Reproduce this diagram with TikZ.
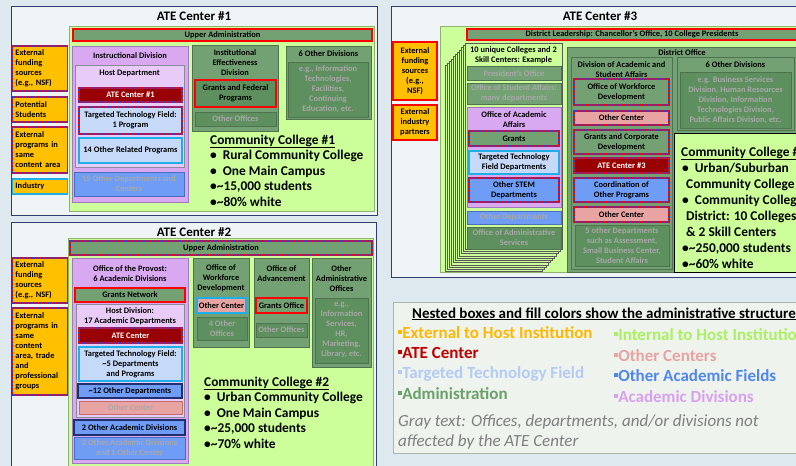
\documentclass[tikz,border=0pt]{standalone}
\usepackage{fontspec}
\setmainfont{Carlito}
\definecolor{bgc}{HTML}{DDE9EE}
\definecolor{panel}{HTML}{EFF5F7}
\definecolor{navy}{HTML}{2F3E6B}
\definecolor{lgreen}{HTML}{CCFF99}
\definecolor{lgreenb}{HTML}{8FB36E}
\definecolor{admin}{HTML}{73A173}
\definecolor{admind}{HTML}{5E8F5E}
\definecolor{adminb}{HTML}{4E734E}
\definecolor{purp}{HTML}{D8A9F1}
\definecolor{purpb}{HTML}{A07ABF}
\definecolor{lpurp}{HTML}{E9CBF7}
\definecolor{lpurpb}{HTML}{8A8A9A}
\definecolor{lblue}{HTML}{C6D9F8}
\definecolor{oblue}{HTML}{6F9DF6}
\definecolor{obblue}{HTML}{4A6FC0}
\definecolor{navyb}{HTML}{1F2F6F}
\definecolor{pink}{HTML}{E8A3A3}
\definecolor{pinkb}{HTML}{C07070}
\definecolor{dred}{HTML}{990000}
\definecolor{ext}{HTML}{FFC000}
\definecolor{cyanb}{HTML}{1EAEE8}
\definecolor{rbblue}{HTML}{3A3ACC}
\definecolor{graytxt}{HTML}{A8A8A8}
\definecolor{legbg}{HTML}{EEF3EE}
\definecolor{legb}{HTML}{A8B8A8}
\definecolor{leggreen}{HTML}{6AA06A}
\definecolor{legint}{HTML}{AAF060}
\definecolor{legred}{HTML}{C00000}
\definecolor{legtb}{HTML}{B4CCF5}
\definecolor{legblue}{HTML}{4F86F0}
\definecolor{legpurp}{HTML}{D9A0F0}
\definecolor{legorange}{HTML}{FFB800}
\definecolor{leggray}{HTML}{7F7F7F}
% box from corner (x1,y1) to corner (x2,y2), in pixels
\newcommand\boxat[7]{\node[#2, minimum width={(#5)-(#3)}, minimum height={(#6)-(#4)}] (#1) at ({((#3)+(#5))/2},{((#4)+(#6))/2}) {#7};}
\newcommand\sq[1]{{\color{#1}\rule[0.22em]{0.24em}{0.24em}}}
\begin{document}
\begin{tikzpicture}[x=1pt,y=-1pt,
  bx/.style={inner sep=0pt, outer sep=0pt, align=center, font=\fontsize{8.4}{10}\selectfont\bfseries, text=black},
  ttl/.style={bx},
  panelbox/.style={fill=panel, draw=navy, line width=0.8pt},
  inner/.style={bx, fill=lgreen, draw=lgreenb, line width=0.8pt},
  adm/.style={bx, fill=admin, draw=adminb, line width=0.6pt},
  admd/.style={bx, fill=admind, draw=adminb, line width=0.6pt},
  acad/.style={bx, fill=purp, draw=purpb, line width=0.8pt},
  host/.style={bx, fill=lpurp, draw=lpurpb, line width=0.6pt},
  tfield/.style={bx, fill=lblue, draw=obblue, line width=0.6pt},
  ofield/.style={bx, fill=oblue, draw=obblue, line width=0.8pt},
  ocenter/.style={bx, fill=pink, draw=pinkb, line width=0.6pt},
  atebox/.style={bx, fill=dred, text=white},
  extbox/.style={bx, fill=ext, draw=ext},
  extl/.style={extbox, align=left, text width=49pt, inner xsep=3pt},
  layer/.style={fill=lgreen, draw=black!65, line width=0.5pt},
  redline/.style={draw=red, line width=1.5pt},
  rbline/.style={draw=rbblue, line width=1.5pt, postaction={draw=red, line width=1.5pt, dash pattern=on 1.8pt off 1.8pt}},
  cyanline/.style={draw=cyanb, line width=1.5pt},
  navyline/.style={draw=navyb, line width=1.4pt},
  gtxt/.style={text=graytxt},
  cc/.style={inner sep=0pt, anchor=base west, font=\fontsize{13.4}{15}\selectfont\bfseries},
  leg/.style={inner sep=0pt, anchor=base west, font=\fontsize{17}{20}\selectfont\bfseries},
  legi/.style={inner sep=0pt, anchor=base west, text=leggray, font=\fontsize{17}{20}\selectfont\itshape},
  pttl/.style={inner sep=0pt, font=\fontsize{13}{15}\selectfont\bfseries}
]
\useasboundingbox (0,0) rectangle (796,466);
\clip (0,0) rectangle (796,466);
\fill[bgc] (0,0) rectangle (796,466);

% ---------- panels ----------
\boxat{p1}{panelbox}{11}{6}{377}{215}{}
\boxat{p2}{panelbox}{11}{222}{376}{480}{}
\boxat{p3}{panelbox}{391}{6}{812}{277}{}
\boxat{leg}{fill=legbg, draw=legb, line width=0.8pt}{393}{302}{812}{453}{}
\node[pttl] (t1) at (194,16) {ATE Center \#1};
\node[pttl] (t2) at (194,232) {ATE Center \#2};
\node[pttl] (t3) at (600,16) {ATE Center \#3};

% ---------- ATE Center #1 ----------
\boxat{g1}{inner}{69}{26}{374}{211}{}
\boxat{ua1}{adm, redline}{73}{29}{372}{41}{Upper Administration}
\boxat{e1}{extl, rbline}{13}{46}{67}{91}{External\\funding\\sources\\(e.g., NSF)}
\boxat{e2}{extl, rbline}{13}{97}{67}{122}{Potential\\Students}
\boxat{e3}{extl, rbline}{13}{127}{67}{173}{External\\programs in\\same\\content area}
\boxat{e4}{extl, cyanline}{13}{179}{67}{194}{Industry}
\boxat{id1}{acad}{72}{46}{188}{202}{}
\node[ttl] (id1t) at (130,56) {Instructional Division};
\boxat{hd1}{host}{75}{65}{184}{167}{}
\node[ttl] (hd1t) at (129.5,73) {Host Department};
\boxat{ate1}{atebox, rbline}{79}{88}{182}{102}{ATE Center \#1}
\boxat{tf1}{tfield, rbline}{79}{107}{182}{134}{Targeted Technology Field:\\1 Program}
\boxat{op14}{tfield, cyanline}{79}{138}{182}{163}{14 Other Related Programs}
\boxat{od15}{ofield, gtxt}{74}{172}{184}{196}{15 Other Departments and\\Centers}
\boxat{ied}{adm}{192}{45}{278}{131}{}
\node[ttl] (iedt) at (235,63) {Institutional\\Effectiveness\\Division};
\boxat{gfp}{admd, redline}{195}{80}{276}{107}{Grants and Federal\\Programs}
\boxat{oo1}{admd, gtxt}{195}{112}{276}{126}{Other Offices}
\boxat{ods1}{adm}{286}{46}{371}{119}{}
\node[ttl] (ods1t) at (328.5,53.5) {6 Other Divisions};
\boxat{ods1i}{admd, gtxt}{288}{62}{368}{117}{e.g., Information\\Technologies,\\Facilities,\\Continuing\\Education, etc.}
\node[cc] (cc1a) at (210,144) {\underline{Community College \#1}};
\node[cc] (cc1b) at (210,159.5) {•\ \ Rural Community College};
\node[cc] (cc1c) at (210,175) {•\ \ One Main Campus};
\node[cc] (cc1d) at (210,190.5) {•\textasciitilde 15,000 students};
\node[cc] (cc1e) at (210,206) {•\textasciitilde 80\% white};

% ---------- ATE Center #2 ----------
\boxat{g2}{inner}{68}{238}{373}{475}{}
\boxat{ua2}{adm, rbline}{70}{241}{372}{255}{Upper Administration}
\boxat{e5}{extl, rbline}{13}{258}{67}{303}{External\\funding\\sources\\(e.g., NSF)}
\boxat{e6}{extl, rbline}{13}{308}{67}{395}{External\\programs in\\same\\content\\area, trade\\and\\professional\\groups}
\boxat{opv}{acad}{72}{258}{188}{463}{}
\node[ttl] (opvt) at (130,273.5) {Office of the Provost:\\6 Academic Divisions};
\boxat{gn}{adm, redline}{75}{288}{185}{302}{Grants Network}
\boxat{hdv}{host}{76}{304}{184}{417}{}
\node[ttl] (hdvt) at (130,316.5) {Host Division:\\17 Academic Departments};
\boxat{ate2}{atebox, rbline}{79}{328}{182}{343}{ATE Center}
\boxat{tf2}{tfield, cyanline}{79}{347}{182}{381}{Targeted Technology Field:\\\textasciitilde 5 Departments\\and Programs}
\boxat{od12}{ofield, navyline}{78}{384}{182}{398}{\textasciitilde 12 Other Departments}
\boxat{oc2}{ocenter, gtxt}{79}{401}{182}{414}{Other Center}
\boxat{ad2}{ofield, navyline}{74}{420}{185}{435}{2 Other Academic Divisions}
\boxat{ad3}{ofield, gtxt}{74}{437}{185}{459}{3 Other Academic Divisions\\and 1 Other Center}
\boxat{owd2}{adm}{193}{258}{249}{347}{}
\node[ttl] (owd2t) at (221,278.5) {Office of\\Workforce\\Development};
\boxat{oc2b}{ocenter, cyanline}{197}{298}{246}{313}{Other Center}
\boxat{oo4}{admd, gtxt}{197}{317}{247}{340}{4 Other\\Offices}
\boxat{oadv}{adm}{254}{258}{309}{347}{}
\node[ttl] (oadvt) at (281.5,273.5) {Office of\\Advancement};
\boxat{go}{adm, redline}{256}{298}{307}{313}{Grants Office}
\boxat{oo2}{admd, gtxt}{256}{323}{307}{337}{Other Offices}
\boxat{oao}{adm}{312}{258}{371}{367}{}
\node[ttl] (oaot) at (341.5,278.5) {Other\\Administrative\\Offices};
\boxat{oaoi}{admd, gtxt}{315}{298}{368}{363}{e.g.,\\Information\\Services,\\HR,\\Marketing,\\Library, etc.}
\node[cc] (cc2a) at (204,386) {\underline{Community College \#2}};
\node[cc] (cc2b) at (204,401.5) {•\ \ Urban Community College};
\node[cc] (cc2c) at (204,417) {•\ \ One Main Campus};
\node[cc] (cc2d) at (204,432.5) {•\textasciitilde 25,000 students};
\node[cc] (cc2e) at (204,448) {•\textasciitilde 70\% white};

% ---------- ATE Center #3 ----------
\boxat{g3}{inner}{440}{26}{812}{272}{}
\boxat{dl}{adm, redline}{467}{29}{797}{40}{District Leadership: Chancellor’s Office, 10 College Presidents}
\boxat{ef3}{extbox, redline}{393}{42}{437}{100}{External\\funding\\sources\\(e.g.,\\NSF)}
\boxat{ei3}{extbox, redline}{393}{105}{437}{140}{External\\industry\\partners}
% stacked sheets: one per college or skill center
\foreach \k in {10,...,1}{
  \boxat{lay\k}{layer}{465-2*\k}{43+2.25*\k}{562-2*\k}{249+2.25*\k}{}
}
\boxat{front}{layer}{465}{43}{562}{249}{}
\node[ttl] (frontt) at (513.5,55.5) {10 unique Colleges and 2\\Skill Centers: Example};
\boxat{pres}{adm, gtxt}{467}{66}{561}{80}{President’s Office}
\boxat{osa}{adm, gtxt}{467}{83}{561}{104}{Office of Student Affairs:\\many departments}
\boxat{oaa}{acad}{467}{107}{561}{207}{}
\node[ttl] (oaat) at (514,119.5) {Office of Academic\\Affairs};
\boxat{gr3}{adm, rbline}{469}{131}{559}{146}{Grants}
\boxat{tf3}{tfield, cyanline}{469}{151}{559}{174}{Targeted Technology\\Field Departments}
\boxat{ostem}{ofield, rbline}{469}{178}{559}{202}{Other STEM\\Departments}
\boxat{od3}{ofield, gtxt}{467}{211}{561}{224}{Other Departments}
\boxat{oas}{admd, gtxt}{467}{227}{561}{249}{Office of Administrative\\Services}
\boxat{do}{adm}{567}{47}{797}{272}{}
\node[ttl] (dot) at (682,52.5) {District Office};
\boxat{dasa}{adm}{571}{57}{672}{269}{}
\node[ttl] (dasat) at (621.5,69.5) {Division of Academic and\\Student Affairs};
\boxat{owd3}{adm, rbline}{574}{79}{669}{105}{Office of Workforce\\Development}
\boxat{oc3a}{ocenter, rbline}{574}{111}{669}{125}{Other Center}
\boxat{gcd}{adm, rbline}{574}{130}{669}{154}{Grants and Corporate\\Development}
\boxat{ate3}{atebox, rbline}{574}{158}{669}{173}{ATE Center \#3}
\boxat{cop}{ofield, rbline}{574}{178}{669}{202}{Coordination of\\Other Programs}
\boxat{oc3b}{ocenter, rbline}{574}{207}{669}{222}{Other Center}
\boxat{fod}{admd, gtxt}{575}{225}{669}{266}{5 other Departments\\such as Assessment,\\Small Business Center,\\Student Affairs}
\boxat{ods3}{adm}{677}{57}{794}{130}{}
\node[ttl] (ods3t) at (735.5,65) {6 Other Divisions};
\boxat{ods3i}{admd, gtxt}{680}{72}{791}{128}{e.g. Business Services\\Division, Human Resources\\Division, Information\\Technologies Division,\\Public Affairs Division, etc.}
\boxat{cc3}{fill=lgreen, draw=black, line width=0.8pt}{674}{133}{812}{272}{}
\node[cc] (cc3a) at (681,156) {\underline{Community College \#3}};
\node[cc] (cc3b) at (682,172) {•\ \ Urban/Suburban};
\node[cc] (cc3c) at (686,188) {Community College};
\node[cc] (cc3d) at (682,204) {•\ \ Community College};
\node[cc] (cc3e) at (686,220) {District: 10 Colleges};
\node[cc] (cc3f) at (686,236) {\& 2 Skill Centers};
\node[cc] (cc3g) at (682,252) {•\textasciitilde 250,000 students};
\node[cc] (cc3h) at (682,268) {•\textasciitilde 60\% white};

% ---------- legend ----------
\node[inner sep=0pt, anchor=base west, font=\fontsize{15}{17}\selectfont\bfseries] (legt) at (412,318) {\underline{Nested boxes and fill colors show the administrative structure}};
\node[leg, text=legorange] (l1) at (398,338) {\sq{legorange}External to Host Institution};
\node[leg, text=legred] (l2) at (398,358) {\sq{legred}ATE Center};
\node[leg, text=legtb] (l3) at (398,378) {\sq{legtb}Targeted Technology Field};
\node[leg, text=leggreen] (l4) at (398,399) {\sq{leggreen}Administration};
\node[leg, text=legint] (l5) at (614,340) {\sq{legint}Internal to Host Institution};
\node[leg, text=pink] (l6) at (614,361) {\sq{pink}Other Centers};
\node[leg, text=legblue] (l7) at (614,381) {\sq{legblue}Other Academic Fields};
\node[leg, text=legpurp] (l8) at (614,402) {\sq{legpurp}Academic Divisions};
\node[legi] (lga) at (398,426) {Gray text: Offices, departments, and/or divisions not};
\node[legi] (lgb) at (398,446) {affected by the ATE Center};
\end{tikzpicture}
\end{document}
